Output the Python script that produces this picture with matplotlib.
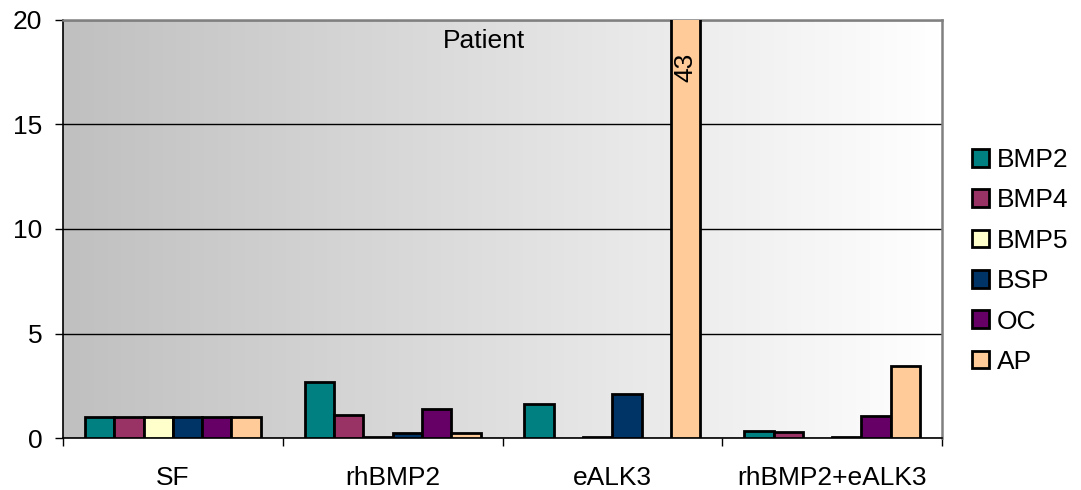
import numpy as np
import matplotlib.pyplot as plt
from matplotlib.colors import LinearSegmentedColormap
from matplotlib.patches import Patch

plt.rcParams["font.family"] = ["Liberation Sans", "DejaVu Sans"]

# data
groups = ["SF", "rhBMP2", "eALK3", "rhBMP2+eALK3"]
genes = ["BMP2", "BMP4", "BMP5", "BSP", "OC", "AP"]
bmp2 = [1.0, 2.7, 1.65, 0.35]
bmp4 = [1.0, 1.1, np.nan, 0.3]
bmp5 = [1.0, 0.03, 0.03, np.nan]
bsp = [1.0, 0.25, 2.1, 0.06]
oc = [1.0, 1.4, np.nan, 1.05]
ap = [1.0, 0.25, 43.0, 3.45]
colors = ["#008080", "#993366", "#FFFFCC", "#003366", "#660066", "#FFCC99"]

series = [bmp2, bmp4, bmp5, bsp, oc, ap]
FS = 19

fig = plt.figure(figsize=(10.81, 4.9), dpi=100)
ax = fig.add_axes([63 / 1081, 1 - 438 / 490, (942 - 63) / 1081, (438 - 20) / 490])

# gray-to-white gradient of the plot area
bg = LinearSegmentedColormap.from_list("bg", ["#c0c0c0", "#ffffff"])
ax.imshow(np.linspace(0, 1, 256).reshape(1, -1), cmap=bg, extent=(0, 1, 0, 1),
          transform=ax.transAxes, aspect="auto", zorder=0)

x = np.arange(len(groups))
w = 0.8 / len(genes)
for i, (vals, c) in enumerate(zip(series, colors)):
    ax.bar(x + (i - 2.5) * w, vals, w, color=c, edgecolor="black",
           linewidth=2.0, zorder=3)

ax.set_xlim(-0.5, len(groups) - 0.5)
ax.set_ylim(0, 20)

ax.set_axisbelow(True)
ax.yaxis.grid(True, color="black", linewidth=1)
ax.set_yticks([0, 5, 10, 15, 20])
ax.tick_params(axis="y", length=6, width=1, pad=9, labelsize=FS)

ax.set_xticks(np.arange(len(groups) + 1) - 0.5)
ax.set_xticklabels([])
ax.set_xticks(x, minor=True)
ax.set_xticklabels(groups, minor=True)
ax.tick_params(axis="x", which="major", length=6, width=1)
ax.tick_params(axis="x", which="minor", length=0, pad=20, labelsize=FS)

for s in ["left", "bottom"]:
    ax.spines[s].set_color("black")
    ax.spines[s].set_linewidth(1.2)
for s in ["top", "right"]:
    ax.spines[s].set_color("#808080")
    ax.spines[s].set_linewidth(1.8)

ax.text(0.479, 0.949, "Patient", transform=ax.transAxes, ha="center",
        va="center", fontsize=FS)
ax.text(2 + 2.5 * w, 17.75, "43", rotation=90, ha="center", va="center",
        fontsize=FS, zorder=4)

handles = [Patch(facecolor=c, edgecolor="black", linewidth=2.0) for c in colors]
fig.legend(handles, genes, loc="center left",
           bbox_to_anchor=(972 / 1081, 1 - 261 / 490), frameon=False,
           fontsize=FS, handlelength=0.65, handleheight=0.65,
           handletextpad=0.3, labelspacing=0.62, borderpad=0,
           borderaxespad=0)

fig.savefig("out.png", dpi=100)
